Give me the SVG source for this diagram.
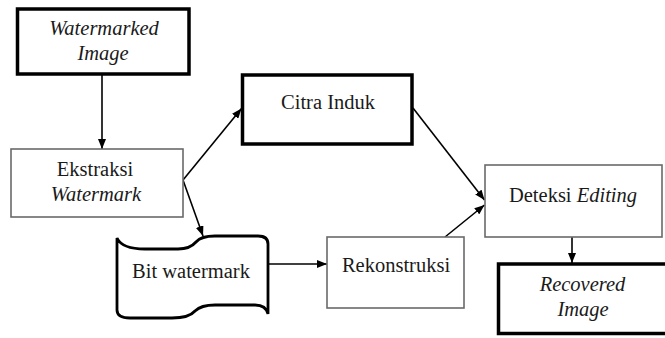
<svg xmlns="http://www.w3.org/2000/svg" width="665" height="338" viewBox="0 0 665 338">
<defs>
<marker id="ah" viewBox="0 0 10 8" refX="10" refY="4" markerWidth="10" markerHeight="8" markerUnits="userSpaceOnUse" orient="auto">
<path d="M0,0 L10,4 L0,8 Z" fill="#000"/>
</marker>
</defs>
<style>
.thick{fill:#fff;stroke:#000;stroke-width:3.5}
.thin{fill:#fff;stroke:#6a6a6a;stroke-width:1.6}
text{font-family:'Liberation Serif','Times New Roman',serif;font-size:20.5px;fill:#1a1a1a;text-anchor:middle}
.i{font-style:italic}
.c{stroke:#000;stroke-width:1.6;fill:none;marker-end:url(#ah)}
</style>
<rect width="665" height="338" fill="#fff"/>
<g id="connectors">
<line class="c" x1="102" y1="75" x2="102" y2="149"/>
<line class="c" x1="183" y1="180" x2="241.5" y2="108.5"/>
<line class="c" x1="183" y1="180" x2="203" y2="236"/>
<line class="c" x1="413" y1="108" x2="484.5" y2="200"/>
<line class="c" x1="445" y1="237" x2="484.5" y2="205"/>
<line class="c" x1="268" y1="264" x2="327" y2="264"/>
<line class="c" x1="572" y1="237" x2="572" y2="263"/>
</g>
<g id="watermarked">
<rect class="thick" x="17.5" y="9" width="171.5" height="65"/>
<text class="i" x="104" y="35">Watermarked</text>
<text class="i" x="103" y="60">Image</text>
</g>
<g id="ekstraksi">
<rect class="thin" x="11" y="149" width="172" height="68"/>
<text x="95" y="175.5">Ekstraksi</text>
<text class="i" x="96" y="201">Watermark</text>
</g>
<g id="citra">
<rect class="thick" x="242.5" y="75" width="169.5" height="69"/>
<text x="328" y="109">Citra Induk</text>
</g>
<g id="bit">
<path d="M117,238 Q122,249 145,249 L178,249 Q190,249 196,242 Q201,236 215,236 L258,236 Q268,236 268,244 L268,314 Q266,305 255,305 L215,305 Q201,305 195,311 Q189,318 172,318 L130,318 Q117,318 117,310 Z" fill="#fff" stroke="#000" stroke-width="2.8"/>
<text x="191" y="278">Bit watermark</text>
</g>
<g id="rekonstruksi">
<rect class="thin" x="327" y="237" width="137" height="71"/>
<text x="396" y="272">Rekonstruksi</text>
</g>
<g id="deteksi">
<rect class="thin" x="485" y="165" width="177" height="72"/>
<text x="573" y="201.5">Deteksi <tspan class="i">Editing</tspan></text>
</g>
<g id="recovered">
<rect class="thick" x="498.5" y="264" width="175" height="69.5"/>
<text class="i" x="582.5" y="290.5">Recovered</text>
<text class="i" x="583" y="315.5">Image</text>
</g>
</svg>
